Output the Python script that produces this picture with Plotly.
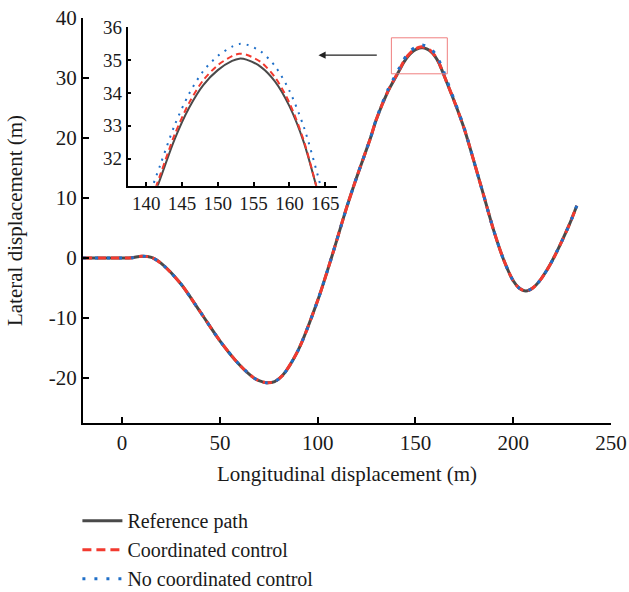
import plotly.graph_objects as go

# ---- data ----
x_vals = [-20, -10, 0, 5, 10, 15, 20, 30, 40, 50, 60, 67, 70, 74, 78, 82, 90, 100, 107,
          115, 120, 127, 130, 136, 140, 142, 144, 146, 148, 150, 152, 153, 154,
          156, 158, 160, 162, 164, 166, 170, 175, 180, 185, 190, 195, 200, 203, 206.5,
          210, 214, 218, 221, 225, 229, 232.5]

ref_path = [0, 0, 0, 0.05, 0.3, 0.1, -0.9, -4.3, -9.0, -13.8, -17.8, -19.9, -20.45, -20.8,
            -20.6, -19.6, -15.4, -7.1, 0.0, 8.6, 13.5, 20.0, 23.1, 27.8, 30.2, 31.4, 32.6,
            33.55, 34.25, 34.7, 34.98, 35.05, 35.02, 34.8, 34.35, 33.6, 32.5, 30.95,
            29.3, 26.0, 21.5, 16.0, 10.3, 4.6, -0.2, -3.8, -5.0, -5.5,
            -5.0, -3.6, -1.6, 0.2, 2.9, 5.8, 8.7]

coord_ctrl = [0, 0, 0, 0.05, 0.3, 0.1, -0.9, -4.3, -9.0, -13.8, -17.8, -19.9, -20.45, -20.8,
              -20.6, -19.6, -15.4, -7.1, 0.0, 8.6, 13.5, 20.0, 23.1, 27.85, 30.3, 31.52, 32.74,
              33.7, 34.4, 34.85, 35.13, 35.2, 35.17, 34.95, 34.48, 33.7, 32.55, 30.95,
              29.3, 26.0, 21.5, 16.0, 10.3, 4.6, -0.2, -3.8, -5.0, -5.5,
              -5.0, -3.6, -1.6, 0.2, 2.9, 5.8, 8.7]

no_coord_ctrl = [0, 0, 0, 0.05, 0.3, 0.1, -0.9, -4.3, -9.0, -13.8, -17.8, -19.9, -20.45, -20.8,
                 -20.6, -19.6, -15.4, -7.1, 0.0, 8.6, 13.5, 20.0, 23.2, 28.1, 30.6, 31.82, 33.03,
                 33.98, 34.68, 35.13, 35.42, 35.5, 35.48, 35.27, 34.82, 34.07, 32.97, 31.45,
                 29.7, 26.2, 21.6, 16.0, 10.3, 4.6, -0.2, -3.8, -5.0, -5.5,
                 -5.0, -3.6, -1.6, 0.2, 2.9, 5.8, 8.7]

x_ticks = [0, 50, 100, 150, 200, 250]
y_ticks = [-20, -10, 0, 10, 20, 30, 40]
y_tick_text = ["-20", "-10", "0", "10", "20", "30", "40"]
inset_x_ticks = [140, 145, 150, 155, 160, 165]
inset_y_ticks = [32, 33, 34, 35, 36]

names = ["Reference path", "Coordinated control", "No coordinated control"]

FONT = "Liberation Serif"
GRAY = "#4a4a4a"
RED = "#f23a2f"
BLUE = "#1f6fc8"

fig = go.Figure()

# main traces
fig.add_trace(go.Scatter(x=x_vals, y=ref_path, mode="lines", name=names[0],
                         line=dict(color=GRAY, width=3, shape="spline", smoothing=0.8)))
fig.add_trace(go.Scatter(x=x_vals, y=coord_ctrl, mode="lines", name=names[1],
                         line=dict(color=RED, width=3, dash="9px,5px", shape="spline", smoothing=0.8)))
fig.add_trace(go.Scatter(x=x_vals, y=no_coord_ctrl, mode="lines", name=names[2],
                         line=dict(color=BLUE, width=3, dash="3px,9px", shape="spline", smoothing=0.8)))

# inset traces
fig.add_trace(go.Scatter(x=x_vals, y=ref_path, mode="lines", showlegend=False,
                         line=dict(color=GRAY, width=2, shape="spline", smoothing=0.8),
                         xaxis="x2", yaxis="y2"))
fig.add_trace(go.Scatter(x=x_vals, y=coord_ctrl, mode="lines", showlegend=False,
                         line=dict(color=RED, width=2, dash="6px,4px", shape="spline", smoothing=0.8),
                         xaxis="x2", yaxis="y2"))
fig.add_trace(go.Scatter(x=x_vals, y=no_coord_ctrl, mode="lines", showlegend=False,
                         line=dict(color=BLUE, width=2, dash="2px,6px", shape="spline", smoothing=0.8),
                         xaxis="x2", yaxis="y2"))

axis_common = dict(showgrid=False, zeroline=False, showline=True, linecolor="black",
                   ticks="inside", tickcolor="black", mirror=False)

fig.update_layout(
    width=629, height=592,
    margin=dict(l=83, r=18, t=17.5, b=169, autoexpand=False),
    plot_bgcolor="white", paper_bgcolor="white",
    font=dict(family=FONT, color="#1a1a1a", size=20),
    xaxis=dict(**axis_common, range=[-20, 250], tickvals=x_ticks, linewidth=2,
               ticklen=6, tickwidth=2, tickfont=dict(size=21),
               title=dict(text="Longitudinal displacement (m)", font=dict(size=21), standoff=12)),
    yaxis=dict(**axis_common, range=[-27.5, 40], tickvals=y_ticks, ticktext=y_tick_text,
               linewidth=2, ticklen=6, tickwidth=2, tickfont=dict(size=21),
               title=dict(text="Lateral displacement (m)", font=dict(size=21), standoff=20)),
    xaxis2=dict(**axis_common, domain=[0.0843, 0.4805], anchor="y2", range=[137.4, 166.6],
                tickvals=inset_x_ticks, linewidth=1.5, ticklen=4, tickwidth=1.5,
                tickfont=dict(size=19)),
    yaxis2=dict(**axis_common, domain=[0.586, 0.978], anchor="x2", range=[31.17, 36.02],
                tickvals=inset_y_ticks, linewidth=1.5, ticklen=4, tickwidth=1.5,
                tickfont=dict(size=19)),
    legend=dict(x=-0.0106, y=-0.4325, xanchor="left", yanchor="bottom",
                font=dict(size=20), bgcolor="rgba(0,0,0,0)",
                tracegroupgap=0, itemwidth=40),
    showlegend=True,
)

# zoom box and arrow on main plot
fig.add_shape(type="rect", xref="x", yref="y", x0=137.7, x1=166.3, y0=30.7, y1=36.7,
              line=dict(color="#f07f7f", width=1))
fig.add_annotation(xref="x", yref="y", x=100.4, y=33.8, ax=131, ay=33.8,
                   axref="x", ayref="y", showarrow=True, arrowhead=2, arrowsize=1.2,
                   arrowwidth=1.2, arrowcolor="#222222", text="")

fig.write_html("out.html")
